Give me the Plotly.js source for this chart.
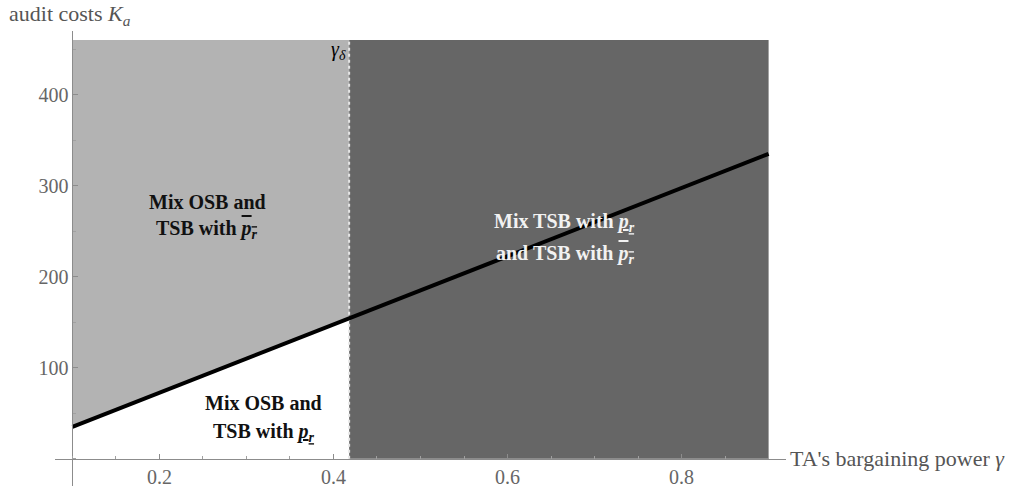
<!DOCTYPE html>
<html>
<head>
<meta charset="utf-8">
<script src="https://cdn.plot.ly/plotly-3.0.1.min.js"></script>
<style>html,body{margin:0;padding:0;background:#fff;}#chart{width:1027px;height:491px;}</style>
</head>
<body>
<div id="chart"></div>
<script>
// Data
const lineGamma = [0.1, 0.418, 0.9];     // TA's bargaining power
const lineK = [35, 154, 335];             // boundary audit costs
const gammaDelta = 0.418;                 // gamma_delta threshold
const gammaMin = 0.1;
const gammaMax = 0.9;
const kMax = 460;
const xTickVals = [0.2, 0.4, 0.6, 0.8];
const xTickText = ["0.2", "0.4", "0.6", "0.8"];
const yTickVals = [100, 200, 300, 400];
const yTickText = ["100", "200", "300", "400"];
const PR = "<i>p</i><sub><i>r</i></sub>";
const prOver = "<span style=\"text-decoration:overline\">" + PR + "</span>";
const prUnder = "<u>" + PR + "</u>";
const regionLines = [
  ["Mix OSB and", "TSB with " + prOver],
  ["Mix TSB with " + prUnder, "and TSB with " + prOver],
  ["Mix OSB and", "TSB with " + prUnder]
];

const serif = "'Liberation Serif'";

const traces = [
  { // dark region right of gamma_delta
    x: [gammaDelta, gammaMax, gammaMax, gammaDelta],
    y: [0, 0, kMax, kMax],
    fill: "toself", fillcolor: "#666666", mode: "lines",
    line: {width: 0, color: "#666666"}, hoverinfo: "skip"
  },
  { // light region above the boundary, left of gamma_delta
    x: [lineGamma[0], lineGamma[1], gammaDelta, gammaMin],
    y: [lineK[0], lineK[1], kMax, kMax],
    fill: "toself", fillcolor: "#b3b3b3", mode: "lines",
    line: {width: 0, color: "#b3b3b3"}, hoverinfo: "skip"
  },
  { // dotted boundary at gamma_delta
    x: [gammaDelta, gammaDelta], y: [0, kMax], mode: "lines",
    line: {color: "#e6e6e6", width: 2, dash: "dot"}, hoverinfo: "skip"
  },
  { // boundary line
    x: lineGamma, y: lineK, mode: "lines",
    line: {color: "#000000", width: 4}, hoverinfo: "skip"
  }
];

const axisCommon = {
  showgrid: false, zeroline: false, showline: true,
  linecolor: "#8c8c8c", linewidth: 1,
  ticks: "inside", ticklen: 5, tickcolor: "#8c8c8c", tickwidth: 1,
  tickfont: {family: serif, size: 20, color: "#666666"},
  tickmode: "array", fixedrange: true
};

function regionText(lines, xs, ys, color) {
  return lines.map((t, i) => ({
    text: "<b>" + t + "</b>", xref: "x", yref: "y", x: xs, y: ys[i],
    showarrow: false, align: "center", xanchor: "center", yanchor: "middle",
    font: {family: serif, size: 20, color: color}
  }));
}

const layout = {
  width: 1027, height: 491,
  margin: {l: 55, r: 241, t: 31, b: 5},
  paper_bgcolor: "#ffffff", plot_bgcolor: "#ffffff",
  showlegend: false,
  font: {family: serif},
  xaxis: Object.assign({}, axisCommon, {
    range: [0.08, 0.92],
    tickvals: xTickVals, ticktext: xTickText,
    anchor: "free", position: 0.06,
    minor: {ticks: "inside", ticklen: 3, tickcolor: "#a0a0a0", dtick: 0.05, tick0: 0}
  }),
  yaxis: Object.assign({}, axisCommon, {
    range: [-30, 470],
    tickvals: yTickVals, ticktext: yTickText,
    anchor: "free", position: 0.0238,
    minor: {ticks: "inside", ticklen: 3, tickcolor: "#a0a0a0", dtick: 50, tick0: 0}
  }),
  annotations: [
    {text: "audit costs <i>K</i><sub><i>a</i></sub>", xref: "paper", yref: "paper",
     x: -0.065, y: 1.036, xanchor: "left", yanchor: "middle", showarrow: false,
     font: {family: serif, size: 22, color: "#555555"}},
    {text: "TA's bargaining power <i>γ</i>", xref: "paper", yref: "paper",
     x: 1.003, y: 0.06, xanchor: "left", yanchor: "middle", showarrow: false,
     font: {family: serif, size: 22, color: "#555555"}},
    {text: "<i>γ</i><sub><i>δ</i></sub>", xref: "x", yref: "y",
     x: gammaDelta, y: 449, xanchor: "right", yanchor: "middle", xshift: -1, showarrow: false,
     font: {family: serif, size: 20, color: "#000000"}}
  ].concat(
    regionText(regionLines[0], 0.2547, [282, 252], "#111111"),
    regionText(regionLines[1], 0.666, [260, 224], "#f2f2f2"),
    regionText(regionLines[2], 0.320, [61, 29], "#111111")
  )
};

Plotly.newPlot("chart", traces, layout, {displayModeBar: false, staticPlot: true});
</script>
</body>
</html>
